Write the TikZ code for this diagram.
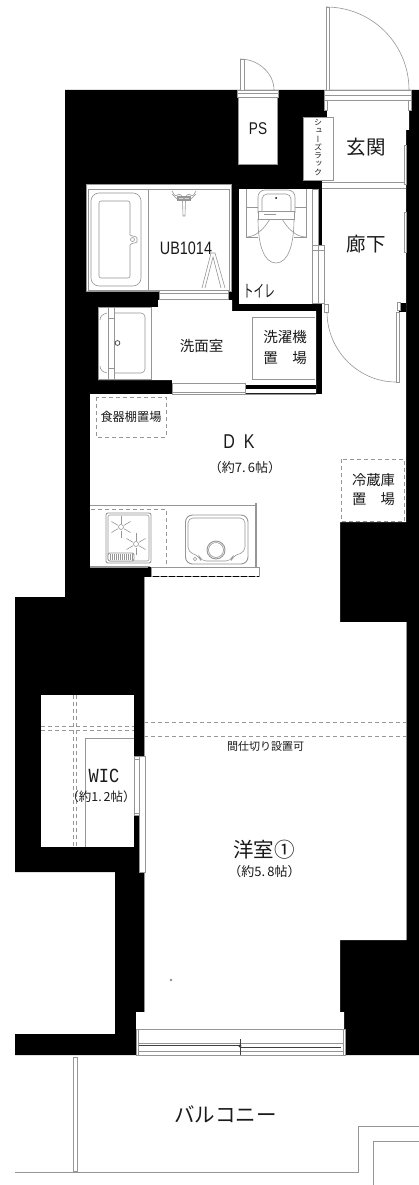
\documentclass[tikz,border=0pt]{standalone}
\usepackage{fontspec}
\setmainfont{Noto Sans CJK JP}
\newfontfamily\VERTJP[RawFeature=+vert]{Noto Sans CJK JP}
\newfontfamily\HALFJP[FakeStretch=0.62]{Noto Sans CJK JP}
\newfontfamily\LATIN[FakeStretch=0.8]{Liberation Sans}
\newfontfamily\LATINMONO[FakeStretch=0.85]{Liberation Mono}
\definecolor{planline}{HTML}{969696}
\definecolor{plantext}{HTML}{1A1A1A}
\newcommand{\SZ}[1]{\fontsize{#1}{#1}\selectfont}
\tikzset{
  planline/.style={draw=planline,line width=0.9pt},
  thinline/.style={draw=planline,line width=0.6pt},
  darkline/.style={draw=black!75,line width=0.7pt},
  leaf/.style={planline,fill=white},
  placedash/.style={draw=planline,line width=0.8pt,dash pattern=on 4pt off 3pt},
  label/.style={text=plantext,inner sep=0pt,align=center}
}
\begin{document}
\begin{tikzpicture}[x=1pt,y=-1pt]
  \useasboundingbox (0,0) rectangle (419,1185);

  %% walls
  \fill[black] (65,90) -- (419,90) -- (419,1055) -- (15,1055) -- (15,1034)
    -- (115,1034) -- (115,872) -- (15,872) -- (15,597) -- (65,597) -- cycle;

  %% rooms
  \fill[white] (327,100) -- (409,100) -- (409,130) -- (406,130) -- (406,522)
    -- (340,522) -- (340,622) -- (406,622) -- (406,940) -- (340,940)
    -- (340,1012) -- (344,1012) -- (344,1056) -- (136,1056) -- (136,1012)
    -- (144,1012) -- (144,577) -- (151,577) -- (151,567) -- (90,567)
    -- (90,394) -- (322,394) -- (322,180) -- (327,180) -- cycle;
  \fill[white] (238,97) rectangle (277,164);
  \fill[white] (86,184) rectangle (231,291);
  \fill[white] (239,189) rectangle (318,304);
  \fill[white] (98,307) -- (158,307) -- (158,300) -- (232,300) -- (232,311)
    -- (316,311) -- (316,393) -- (172,393) -- (172,380) -- (98,380) -- cycle;
  \fill[white] (41,695) rectangle (134,847);
  \fill[black] (245,385) rectangle (316,389);
  \fill[black] (399,303) rectangle (406,312);

  %% entrance door, PS door
  \draw[leaf] (326,7) rectangle (329,90);
  \draw[thinline] (326,7) .. controls (372,7) and (409,44) .. (409,90);
  \draw[leaf] (324,90) rectangle (411,100);
  \draw[planline] (324,95) -- (411,95);
  \draw[leaf] (324,100) rectangle (327,110);
  \draw[leaf] (408,100) rectangle (411,110);
  \draw[leaf] (240,59) rectangle (244,90);
  \draw[thinline] (240,59) .. controls (258,59) and (274,73) .. (274,90);
  \draw[leaf] (237,90) rectangle (278,97);
  \draw[planline] (237,93) -- (278,93);
  \draw[planline] (238,97) -- (238,164) -- (277,164) -- (277,97);

  %% shoe rack, corridor
  \draw[leaf] (303,117) rectangle (333,180);
  \draw[planline] (322,182) -- (406,182);
  \draw[planline] (322,188) -- (406,188);
  \draw[leaf] (404,145) rectangle (406,184);
  \draw[leaf] (404,212) rectangle (406,252);

  %% corridor door
  \draw[leaf] (396,312) rectangle (399.5,382);
  \draw[thinline] (327,312) .. controls (327,350) and (358,382) .. (396,382);
  \draw[leaf] (324,304) rectangle (328,312);
  \draw[leaf] (397,302) rectangle (400,310);

  %% toilet doors
  \draw[leaf] (312,189) rectangle (318,245);
  \draw[leaf] (312,245) rectangle (324,303);
  \draw[planline] (318,245) -- (318,303);
  \draw[planline] (312,250) -- (324,250);

  %% bath
  \draw[planline] (86,184) rectangle (231,291);
  \draw[thinline] (88,189) rectangle (229,290);
  \draw[thinline] (148,189) -- (148,290);
  \draw[thinline,rounded corners=8pt] (91,193) rectangle (141,286);
  \draw[thinline,rounded corners=2pt] (99,201) -- (130,201) -- (130,233)
    .. controls (130,236) and (137,236) .. (137,240)
    .. controls (137,243) and (130,243) .. (130,247) -- (130,278) -- (99,278) -- cycle;
  \draw[thinline] (132.5,239.5) circle (2);
  \draw[thinline,rounded corners=1pt] (172,191) -- (175,196) -- (180,194) -- (184,199)
    -- (188,194) -- (193,196) -- (196,191);
  \draw[thinline] (172,194) -- (177,199) -- (191,199) -- (196,194);
  \draw[planline,line width=1.3pt] (178,197) rectangle (190,200);
  \draw[thinline] (182.5,200) -- (183,216) -- (185,216) -- (185.5,200);
  \draw[thinline] (202,288) -- (211,253) -- (215,253) -- (225,288);
  \draw[thinline] (205,288) -- (213,257) -- (221,288);
  \draw[leaf] (159,290) rectangle (228,299);
  \draw[planline] (159,293) -- (228,293);
  \node[label] (ubname) at (186,248) {\LATIN\SZ{18}UB1014};

  %% toilet
  \draw[thinline] (246,189) -- (246,237) -- (258,237);
  \draw[thinline] (306,189) -- (306,237) -- (294,237);
  \draw[thinline] (246,207) -- (258,207);
  \draw[thinline] (294,207) -- (306,207);
  \draw[thinline] (246,237) .. controls (256,237) and (264,229) .. (270,219);
  \draw[thinline] (306,237) .. controls (296,237) and (288,229) .. (282,219);
  \draw[thinline] (258,219) .. controls (258,245) and (264,263) .. (276,263)
    .. controls (288,263) and (294,245) .. (294,219);
  \draw[thinline,fill=white,rounded corners=7pt] (258,213) -- (258,190)
    -- (295,190) -- (295,213);
  \draw[thinline,rounded corners=5pt] (262,213) -- (262,194) -- (291,194) -- (291,213);
  \fill[black] (276,198) circle (1);
  \draw[planline,fill=white] (258,211) rectangle (294,219);
  \draw[planline,line width=1.2pt] (264,214.5) -- (276,214.5);
  \node[label] (toiletname) at (259,291.5) {\HALFJP\SZ{17}トイレ};

  %% washroom
  \draw[planline] (98,307) rectangle (151,379);
  \draw[thinline] (108,307) -- (108,379);
  \draw[thinline] (114,307) -- (114,379);
  \draw[thinline] (108,318) -- (114,318);
  \draw[thinline] (108,368) -- (114,368);
  \draw[thinline,rounded corners=4pt] (114,313) -- (145,313) -- (145,373) -- (114,373);
  \draw[thinline] (100,320) .. controls (100,316) and (103,314) .. (107,313);
  \draw[thinline] (100,366) .. controls (100,370) and (103,372) .. (107,373);
  \draw[darkline] (117.5,343) circle (2.4);
  \draw[planline] (315,379) -- (252,379) -- (252,317) -- (315,317);
  \draw[leaf] (172,383) rectangle (245,394);
  \draw[planline] (172,392) -- (245,392);
  \draw[planline] (245,394) -- (316,394);

  %% DK
  \draw[placedash] (96,397) rectangle (166,437);
  \draw[placedash] (341,459) rectangle (404,521.5);
  \draw[planline] (90,505) -- (255,505);
  \draw[planline,line width=1.6pt] (256,503) -- (256,567);
  \draw[placedash] (91,509) -- (166,509) -- (166,566);
  \draw[planline,line width=1.2pt] (90,567) -- (150,567);
  \draw[planline,fill=white] (151,567) rectangle (259,576);
  \draw[black,line width=0.8pt,dash pattern=on 6pt off 2pt] (153,576) -- (259,576);
  \fill[black] (148,567) rectangle (151,577);

  %% cooker
  \draw[planline,rounded corners=2pt] (106,513) rectangle (151,563);
  \draw[thinline,rounded corners=2pt] (108,515) rectangle (149,561);
  \foreach \BX/\BY in {121/527,136/544}
    \foreach \ANG in {30,90,150,210,270,330}
      \draw[thinline] (\BX,\BY) +(\ANG:3.5) -- +(\ANG:11);
  \draw[thinline] (121,527) circle (2.5);
  \draw[thinline] (136,544) circle (2.5);
  \draw[planline,rounded corners=2pt,fill=white] (108,553) rectangle (134,561);
  \foreach \HX in {110,112,...,132}
    \draw[thinline] (\HX,554) -- (\HX,560);

  %% sink
  \draw[planline,rounded corners=7pt] (185.5,515) rectangle (248,564);
  \draw[thinline,rounded corners=5pt] (188,518) -- (245,518) -- (245,552)
    -- (233,556) -- (231,561) -- (201,561) -- (199,556) -- (188,552) -- cycle;
  \draw[planline] (216,550) circle (9);
  \draw[thinline] (216,550) circle (7.5);
  \draw[thinline] (195,559) circle (1.8);

  %% room door, WIC
  \draw[placedash] (144,722) -- (406,722);
  \draw[placedash] (144,736.5) -- (406,736.5);
  \draw[placedash] (73,695) -- (73,847);
  \draw[placedash] (76.5,695) -- (76.5,847);
  \draw[placedash] (41,726.5) -- (134,726.5);
  \draw[placedash] (41,730) -- (134,730);
  \draw[planline] (85,847) -- (85,738) -- (134,738);
  \draw[leaf] (139,756) rectangle (145,872);
  \draw[leaf] (134,756) rectangle (139.5,815);
  \draw[planline] (134,759) -- (139.5,759);
  \draw[planline] (134,813) -- (139.5,813);
  \draw[planline] (144,577) -- (144,756);
  \draw[planline] (144,872) -- (144,1012);
  \draw[planline] (406,622) -- (406,940);
  \fill[planline] (171,980) circle (0.7);

  %% window
  \draw[leaf] (136,1029) rectangle (345,1055);
  \draw[planline] (138,1029) -- (138,1055);
  \draw[planline] (343,1029) -- (343,1055);
  \draw[planline] (138,1043) -- (343,1043);
  \draw[planline] (138,1051) -- (343,1051);
  \draw[darkline] (139,1045.5) -- (240,1045.5);
  \draw[darkline] (240,1047) -- (341,1047);
  \fill[black!80] (240,1046) circle (1.6);
  \draw[darkline] (240,1039) -- (240,1055);

  %% balcony
  \draw[planline] (15,1172) -- (358,1172) -- (358,1126) -- (419,1126);
  \draw[planline] (373,1185) -- (373,1141) -- (419,1141);
  \draw[planline,fill=white] (73,1057) rectangle (77,1171);

  %% labels
  \node[label] (psname) at (258,129) {\LATIN\SZ{17}PS};
  \foreach \KANA [count=\I] in {シ,ュ,ー,ズ,ラ,ッ,ク}
    \node[label] (rack\I) at (318,114+8.3*\I) {\VERTJP\SZ{8}\KANA};
  \node[label] (genkan) at (366,147) {\SZ{19.5}玄関};
  \node[label] (rouka) at (366,244.5) {\SZ{19.5}廊下};
  \node[label] (senmen) at (201.5,346) {\SZ{14.5}洗面室};
  \node[label] (sentakki) at (285,337) {\SZ{14.5}洗濯機};
  \node[label] (sentakkib) at (285,358) {\SZ{14.5}置　場};
  \node[label] (shokki) at (131,417) {\SZ{12.2}食器棚置場};
  \node[label] (dk) at (239,442) {\LATIN\SZ{20}D\hspace{9pt}K};
  \node[label] (dksize) at (245,468) {\SZ{13}（約7.\hspace{2pt}6帖）};
  \node[label] (reizou) at (373.5,480) {\SZ{14.3}冷蔵庫};
  \node[label] (reizoub) at (373.5,499) {\SZ{14.3}置　場};
  \node[label] (partition) at (265.5,746.5) {\SZ{11}間仕切り設置可};
  \node[label] (wic) at (104,776) {\LATINMONO\SZ{20}WIC};
  \node[label] (wicsize) at (101,797) {\SZ{12.5}（約1.\hspace{2pt}2帖）};
  \node[label] (youshitsu) at (264,850) {\SZ{20.5}洋室①};
  \node[label] (youshitsusize) at (264.5,871.5) {\SZ{13}（約5.\hspace{2pt}8帖）};
  \node[label] (balcony) at (225.5,1114) {\SZ{20.5}バルコニー};
\end{tikzpicture}
\end{document}
